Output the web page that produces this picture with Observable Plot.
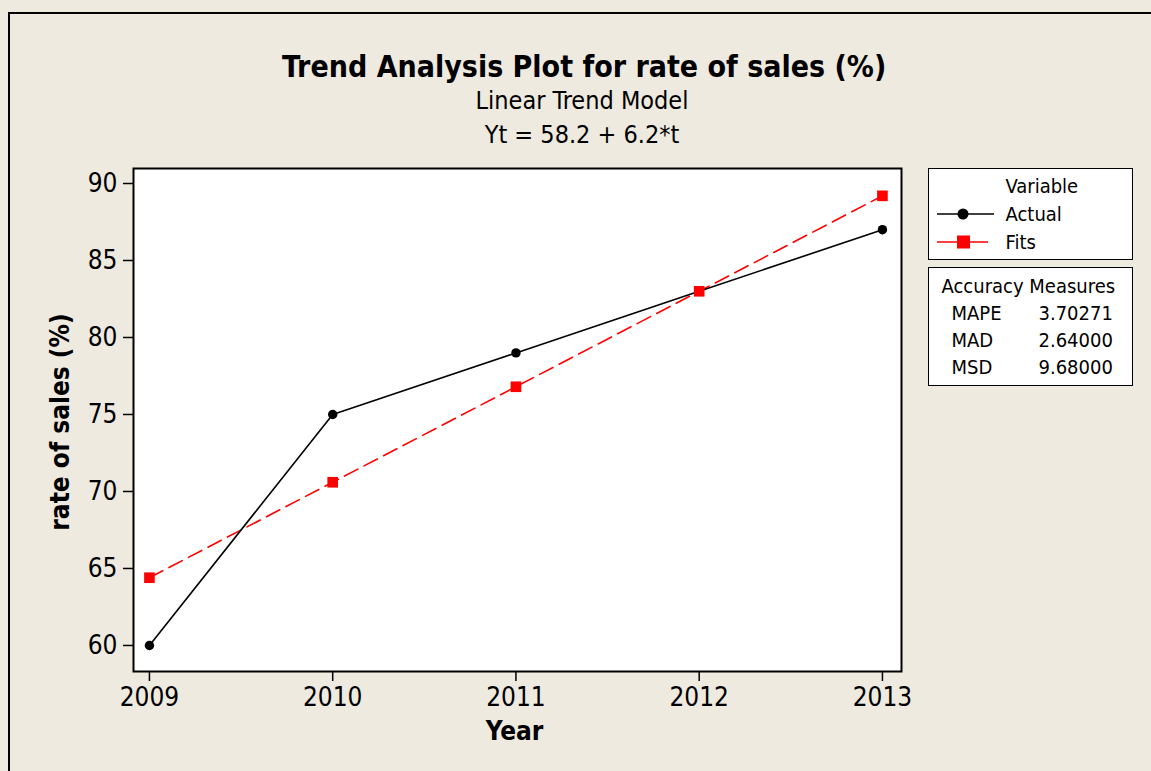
<!DOCTYPE html>
<html>
<head>
<meta charset="utf-8">
<script src="https://cdn.jsdelivr.net/npm/d3@7"></script>
<script src="https://cdn.jsdelivr.net/npm/@observablehq/plot@0.6"></script>
<style>
  html, body { margin: 0; padding: 0; background: #EEEAE0; }
  body { width: 1151px; height: 771px; overflow: hidden; position: relative;
         font-family: "DejaVu Sans Condensed", "DejaVu Sans", sans-serif; color: #000; }
  #frame { position: absolute; left: 8px; top: 12px; width: 1200px; height: 800px;
           border-left: 2px solid #000; border-top: 2px solid #000; }
  #titles { position: absolute; left: 282px; width: 600px; top: 0; text-align: center; }
  #titles div { position: absolute; left: 0; width: 600px; line-height: 1; white-space: nowrap; }
  #t1 { top: 51.6px; font-size: 30px; font-weight: bold; }
  #t2 { top: 87.8px; font-size: 25px; }
  #t3 { top: 121.8px; font-size: 25px; }
  #chart { position: absolute; left: 0; top: 0; }
  .box { position: absolute; background: #fff; border: 1.5px solid #000; box-sizing: border-box; font-size: 20px; }
  .box div { position: absolute; white-space: nowrap; line-height: 1; }
</style>
</head>
<body>
<div id="frame"></div>
<div id="chart"></div>
<div id="titles">
  <div id="t1">Trend Analysis Plot for rate of sales (%)</div>
  <div id="t2">Linear Trend Model</div>
  <div id="t3">Yt = 58.2 + 6.2*t</div>
</div>
<div class="box" id="leg1" style="left:928px; top:168px; width:205px; height:92px;"></div>
<div class="box" id="leg2" style="left:928px; top:267px; width:205px; height:119px;"></div>
<script>
const years = [2009, 2010, 2011, 2012, 2013];
const actual = [60, 75, 79, 83, 87];
const fits = [64.4, 70.6, 76.8, 83.0, 89.2];
const yTicks = [60, 65, 70, 75, 80, 85, 90];
const accuracyNames = ["MAPE", "MAD", "MSD"];
const accuracyValues = ["3.70271", "2.64000", "9.68000"];

const actualData = years.map((y, i) => ({year: y, value: actual[i]}));
const fitsData = years.map((y, i) => ({year: y, value: fits[i]}));

const FONT = '"DejaVu Sans Condensed", "DejaVu Sans", sans-serif';

const plot = Plot.plot({
  width: 1151,
  height: 771,
  marginLeft: 133,
  marginRight: 250,
  marginTop: 168,
  marginBottom: 100,
  style: {background: "transparent", fontFamily: FONT, color: "#000"},
  x: {domain: [2008.913, 2013.104], ticks: years, tickFormat: d => String(d), label: null},
  y: {domain: [58.31, 90.974], ticks: yTicks, label: null},
  marks: [
    Plot.frame({fill: "#fff"}),
    Plot.axisX({ticks: years, tickFormat: d => String(d), tickSize: 10, tickPadding: 6, fontSize: 26, label: null, stroke: "#000", strokeWidth: 1.5}),
    Plot.axisY({ticks: yTicks, tickSize: 10, tickPadding: 6, fontSize: 26, label: null, stroke: "#000", strokeWidth: 1.5}),
    Plot.line(fitsData, {x: "year", y: "value", stroke: "#ff0000", strokeWidth: 1.6, strokeDasharray: "15,7"}),
    Plot.line(actualData, {x: "year", y: "value", stroke: "#000", strokeWidth: 1.6}),
    Plot.dot(actualData, {x: "year", y: "value", fill: "#000", r: 4.7}),
    Plot.dot(fitsData, {x: "year", y: "value", fill: "#ff0000", symbol: "square", r: 6}),
    Plot.frame({stroke: "#000", strokeWidth: 2}),
    Plot.text(["rate of sales (%)"], {frameAnchor: "left", textAnchor: "middle", lineAnchor: "middle", dx: -73, dy: 2, rotate: -90, fontSize: 26, fontWeight: "bold", fill: "#000"}),
    Plot.text(["Year"], {frameAnchor: "bottom", textAnchor: "middle", lineAnchor: "middle", dy: 60, dx: -3, fontSize: 26, fontWeight: "bold", fill: "#000"})
  ]
});
document.getElementById("chart").appendChild(plot);

// Legend 1
const leg1 = document.getElementById("leg1");
leg1.innerHTML = `
  <div style="left:76.5px; top:7px;">Variable</div>
  <svg style="position:absolute; left:7.5px; top:34.5px;" width="60" height="20">
    <line x1="0" y1="10" x2="57" y2="10" stroke="#000" stroke-width="1.5"/>
    <circle cx="26" cy="10" r="5.5" fill="#000"/>
  </svg>
  <div style="left:76.5px; top:34.6px;">Actual</div>
  <svg style="position:absolute; left:7.5px; top:62.5px;" width="60" height="20">
    <line x1="0" y1="10" x2="51" y2="10" stroke="#ff0000" stroke-width="1.5"/>
    <rect x="20" y="3.5" width="13" height="13" fill="#ff0000"/>
  </svg>
  <div style="left:76.5px; top:62.6px;">Fits</div>`;

const leg2 = document.getElementById("leg2");
let html = `<div style="left:12.5px; top:7.6px;">Accuracy Measures</div>`;
accuracyNames.forEach((n, i) => {
  html += `<div style="left:22.5px; top:${34.6 + i * 27}px;">${n}</div>`;
  html += `<div style="left:109.5px; top:${34.6 + i * 27}px;">${accuracyValues[i]}</div>`;
});
leg2.innerHTML = html;
</script>
</body>
</html>
